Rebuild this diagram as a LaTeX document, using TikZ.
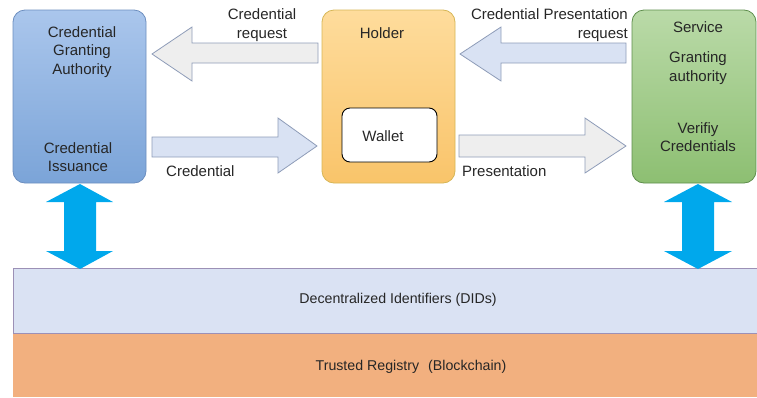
\documentclass[tikz,border=0pt]{standalone}
\usepackage{fontspec}
\setmainfont{Liberation Sans}
\begin{document}
\begin{tikzpicture}[x=1pt,y=-1pt,
  lbl/.style={font=\fontsize{15}{18.5}\selectfont, align=center, inner sep=0pt, text=black!85},
  box/.style={rounded corners=12pt, line width=0.8pt},
  garrow/.style={fill=gray!13, draw=arrowedge, line width=0.8pt},
  barrow/.style={fill=lightblue, draw=arrowedge, line width=0.8pt},
  cyanarrow/.style={fill=cyanc, draw=none}]
\definecolor{blueT}{HTML}{AAC6EC}
\definecolor{blueB}{HTML}{7BA4D8}
\definecolor{blueE}{HTML}{6C8EBF}
\definecolor{yelT}{HTML}{FEDC9C}
\definecolor{yelB}{HTML}{F9C46A}
\definecolor{yelE}{HTML}{D6B656}
\definecolor{grnT}{HTML}{BADAA8}
\definecolor{grnB}{HTML}{8DBF72}
\definecolor{grnE}{HTML}{5E8E4C}
\definecolor{arrowedge}{HTML}{8E9CB8}
\definecolor{lightblue}{HTML}{D9E2F3}
\definecolor{cyanc}{HTML}{00A8EC}
\definecolor{didfill}{HTML}{DAE2F3}
\definecolor{didedge}{HTML}{9C90B6}
\definecolor{trfill}{HTML}{F2B07F}
\useasboundingbox (0,0) rectangle (757,397);

% bands
\fill[trfill] (13,333) rectangle (757,397);
\draw[fill=didfill, draw=didedge, line width=0.7pt] (13,268) rectangle (758,333);
\node[lbl, font=\fontsize{14.2}{16}\selectfont] (did) at (398,300) {Decentralized Identifiers (DIDs)};
\node[lbl, font=\fontsize{14.2}{16}\selectfont] (tr) at (411,367) {Trusted Registry\hspace{9pt}(Blockchain)};

% boxes
\draw[box, top color=blueT, bottom color=blueB, draw=blueE] (13,10) rectangle (146,183);
\draw[box, top color=yelT, bottom color=yelB, draw=yelE] (322,10) rectangle (455,183);
\draw[box, top color=grnT, bottom color=grnB, draw=grnE] (632,10) rectangle (756,183);
\draw[rounded corners=8pt, fill=white, draw=black, line width=0.9pt] (342,108) rectangle (437,162);

% box texts
\node[lbl] (cga) at (82,52) {Credential\\Granting\\Authority};
\node[lbl] (ci) at (78,157) {Credential\\Issuance};
\node[lbl] (holder) at (382,33) {Holder};
\node[lbl] (wallet) at (383,136) {Wallet};
\node[lbl] (service) at (698,27) {Service};
\node[lbl] (ga) at (698,68) {Granting\\authority};
\node[lbl] (vc) at (698,137) {Verifiy\\Credentials};

% horizontal block arrows
\draw[garrow] (318,43) -- (192,43) -- (192,27) -- (152,54) -- (192,81) -- (192,63) -- (318,63) -- cycle;
\draw[barrow] (152,137) -- (278,137) -- (278,118) -- (317,146) -- (278,173) -- (278,157) -- (152,157) -- cycle;
\draw[barrow] (626,43) -- (501,43) -- (501,27) -- (460,54) -- (501,81) -- (501,63) -- (626,63) -- cycle;
\draw[garrow] (459,135) -- (585,135) -- (585,118) -- (626,146) -- (585,173) -- (585,157) -- (459,157) -- cycle;

% arrow labels
\node[lbl] (creq) at (262,25) {Credential\\request};
\node[lbl, anchor=west] (cred) at (166,171) {Credential};
\node[lbl, align=right, anchor=east] (cpr) at (628,25) {Credential Presentation\\request};
\node[lbl, anchor=west] (pres) at (462,171) {Presentation};

% vertical double arrows
\fill[cyanc] (80,184) -- (113,202) -- (96,202) -- (96,251) -- (113,251) -- (80,269) -- (46,251) -- (64,251) -- (64,202) -- (46,202) -- cycle;
\fill[cyanc] (698,184) -- (732,202) -- (714,202) -- (714,251) -- (732,251) -- (698,269) -- (664,251) -- (682,251) -- (682,202) -- (664,202) -- cycle;
\end{tikzpicture}
\end{document}
